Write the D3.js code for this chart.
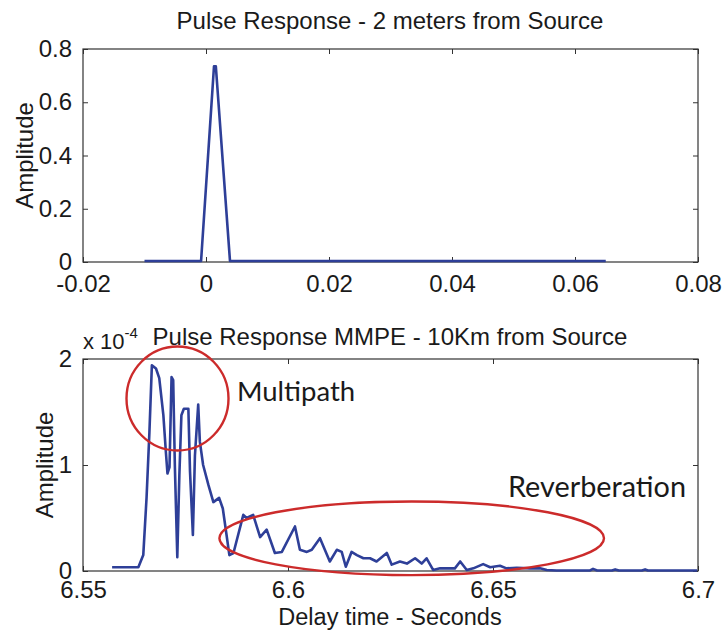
<!DOCTYPE html>
<html>
<head>
<meta charset="utf-8">
<script src="https://cdn.jsdelivr.net/npm/d3@7"></script>
<style>
  html, body { margin: 0; padding: 0; background: #fff; }
  svg { display: block; }
  text { font-family: "Liberation Sans", Arial, sans-serif; fill: #1a1a1a; }
</style>
</head>
<body>
<svg id="chart" width="722" height="631"></svg>
<script>
// ---------- DATA ----------
// Top panel: pulse response 2 m from source
const topTime = [-0.01, -0.0008, 0.0013, 0.0016, 0.0039, 0.065];
const topAmp  = [0.004, 0.004, 0.735, 0.735, 0.004, 0.004];
const topXTicks = [-0.02, 0, 0.02, 0.04, 0.06, 0.08];
const topXTickLabels = ["-0.02", "0", "0.02", "0.04", "0.06", "0.08"];
const topYTicks = [0, 0.2, 0.4, 0.6, 0.8];
const topYTickLabels = ["0", "0.2", "0.4", "0.6", "0.8"];

// Bottom panel: pulse response MMPE 10 km from source (amplitude in units of 1e-4)
const botTime = [
  6.5571, 6.5635, 6.5647, 6.5655, 6.5662, 6.5668, 6.5678, 6.5686, 6.5696, 6.5702,
  6.5706, 6.5711, 6.5716, 6.5720, 6.5724, 6.5730, 6.5735, 6.5740, 6.5746, 6.5757,
  6.5761, 6.5768, 6.5773, 6.5781, 6.5785, 6.5793, 6.5806, 6.5818, 6.5832, 6.5841,
  6.5849, 6.5857, 6.5867, 6.5891, 6.5899, 6.5915, 6.5932, 6.5948, 6.5968, 6.5985,
  6.6017, 6.6029, 6.6046, 6.6058, 6.6078, 6.6102, 6.6119, 6.6131, 6.6141, 6.6155,
  6.6168, 6.6184, 6.6200, 6.6216, 6.6241, 6.6253, 6.6273, 6.6290, 6.6310, 6.6326,
  6.6338, 6.6354, 6.6371, 6.6407, 6.6420, 6.6436, 6.6452, 6.6476, 6.6493, 6.6517,
  6.6533, 6.6558, 6.6590, 6.6615, 6.6631, 6.6655, 6.6737, 6.6744, 6.6754, 6.6790,
  6.6798, 6.6807, 6.6863, 6.6871, 6.6878, 6.6998
];
const botAmp = [
  0.035, 0.035, 0.15, 0.69, 1.31, 1.94, 1.91, 1.82, 1.47, 1.13,
  0.92, 0.98, 1.83, 1.80, 1.00, 0.13, 0.90, 1.47, 1.53, 1.53,
  0.94, 0.34, 1.09, 1.57, 1.22, 1.00, 0.81, 0.65, 0.69, 0.59,
  0.37, 0.15, 0.17, 0.53, 0.50, 0.53, 0.32, 0.39, 0.17, 0.18,
  0.42, 0.20, 0.18, 0.20, 0.31, 0.09, 0.20, 0.18, 0.04, 0.18,
  0.15, 0.12, 0.12, 0.09, 0.17, 0.06, 0.09, 0.07, 0.12, 0.07,
  0.12, 0.01, 0.025, 0.025, 0.09, 0.01, 0.025, 0.065, 0.035, 0.05,
  0.025, 0.03, 0.025, 0.025, 0.01, 0.005, 0.005, 0.02, 0.005, 0.005,
  0.015, 0.005, 0.005, 0.015, 0.005, 0.005
];
const botXTicks = [6.55, 6.6, 6.65, 6.7];
const botXTickLabels = ["6.55", "6.6", "6.65", "6.7"];
const botYTicks = [0, 1, 2];
const botYTickLabels = ["0", "1", "2"];

const topTitle = "Pulse Response - 2 meters from Source";
const botTitle = "Pulse Response MMPE - 10Km from Source";
const yLabel = "Amplitude";
const xLabel = "Delay time - Seconds";
const annMultipath = "Multipath";
const annReverb = "Reverberation";

// ---------- LAYOUT ----------
const svg = d3.select("#chart");
const left = 83, right = 698;
const lineColor = "#2e3f98";
const red = "#cc2b2b";

function panel(cfg) {
  const g = svg.append("g");
  const x = d3.scaleLinear().domain(cfg.xDomain).range([left, right]);
  const y = d3.scaleLinear().domain(cfg.yDomain).range([cfg.bottom, cfg.top]);

  const fmtX = (d, i) => cfg.xLabels[i];
  const fmtY = (d, i) => cfg.yLabels[i];

  const ax = [
    g.append("g").attr("transform", `translate(0,${cfg.bottom})`)
      .call(d3.axisBottom(x).tickValues(cfg.xTicks).tickFormat(fmtX).tickSizeInner(-5).tickSizeOuter(0).tickPadding(cfg.xPad)),
    g.append("g").attr("transform", `translate(0,${cfg.top})`)
      .call(d3.axisTop(x).tickValues(cfg.xTicks).tickFormat("").tickSizeInner(-5).tickSizeOuter(0)),
    g.append("g").attr("transform", `translate(${left},0)`)
      .call(d3.axisLeft(y).tickValues(cfg.yTicks).tickFormat(fmtY).tickSizeInner(-5).tickSizeOuter(0).tickPadding(11)),
    g.append("g").attr("transform", `translate(${right},0)`)
      .call(d3.axisRight(y).tickValues(cfg.yTicks).tickFormat("").tickSizeInner(-5).tickSizeOuter(0))
  ];
  ax.forEach(a => {
    a.select(".domain").remove();
    a.selectAll(".tick line").attr("stroke", "#333").attr("stroke-width", 1);
    a.selectAll(".tick text").style("font-size", "24px").attr("fill", "#1a1a1a");
  });
  g.append("rect").attr("x", left).attr("y", cfg.top)
    .attr("width", right - left).attr("height", cfg.bottom - cfg.top)
    .attr("fill", "none").attr("stroke", "#333").attr("stroke-width", 1.2);

  const data = cfg.time.map((t, i) => [t, cfg.amp[i]]);
  g.append("path").datum(data)
    .attr("fill", "none").attr("stroke", lineColor).attr("stroke-width", 2.6)
    .attr("stroke-linejoin", "round")
    .attr("d", d3.line().x(d => x(d[0])).y(d => y(d[1])));

  g.append("text").attr("x", 390).attr("y", cfg.titleY)
    .attr("text-anchor", "middle").style("font-size", "24px").text(cfg.title);

  g.append("text")
    .attr("transform", `translate(${cfg.yLabelX},${(cfg.top + cfg.bottom) / 2}) rotate(-90)`)
    .attr("text-anchor", "middle").style("font-size", "24px").text(yLabel);

  return { g, x, y };
}

const p1 = panel({
  xDomain: [-0.02, 0.08], yDomain: [0, 0.8], top: 49, bottom: 262,
  xTicks: topXTicks, xLabels: topXTickLabels, yTicks: topYTicks, yLabels: topYTickLabels,
  time: topTime, amp: topAmp, title: topTitle, titleY: 29, yLabelX: 33, xPad: 13
});

const p2 = panel({
  xDomain: [6.55, 6.7], yDomain: [0, 2], top: 359, bottom: 571,
  xTicks: botXTicks, xLabels: botXTickLabels, yTicks: botYTicks, yLabels: botYTickLabels,
  time: botTime, amp: botAmp, title: botTitle, titleY: 345, yLabelX: 53, xPad: 10
});

// exponent label
const ex = svg.append("text").attr("x", 83).attr("y", 349).style("font-size", "22px");
ex.append("tspan").text("x 10");
ex.append("tspan").attr("dy", -11).style("font-size", "15px").text("-4");

// bottom x label
svg.append("text").attr("x", 390).attr("y", 625).attr("text-anchor", "middle")
  .style("font-size", "23.5px").text(xLabel);

// annotations
svg.append("ellipse").attr("cx", 177.5).attr("cy", 398.5).attr("rx", 51).attr("ry", 52)
  .attr("fill", "none").attr("stroke", red).attr("stroke-width", 2.4);
svg.append("ellipse").attr("cx", 411.7).attr("cy", 538.3).attr("rx", 192.3).attr("ry", 36.8)
  .attr("fill", "none").attr("stroke", red).attr("stroke-width", 2.4);

svg.append("text").attr("x", 237).attr("y", 401)
  .style("font-family", "Lato, 'Open Sans', sans-serif").style("font-weight", 400)
  .style("font-size", "27.5px").attr("fill", "#111").text(annMultipath);
svg.append("text").attr("x", 508).attr("y", 497)
  .style("font-family", "Lato, 'Open Sans', sans-serif").style("font-weight", 400)
  .style("font-size", "28.8px").attr("fill", "#111").text(annReverb);
</script>
</body>
</html>
